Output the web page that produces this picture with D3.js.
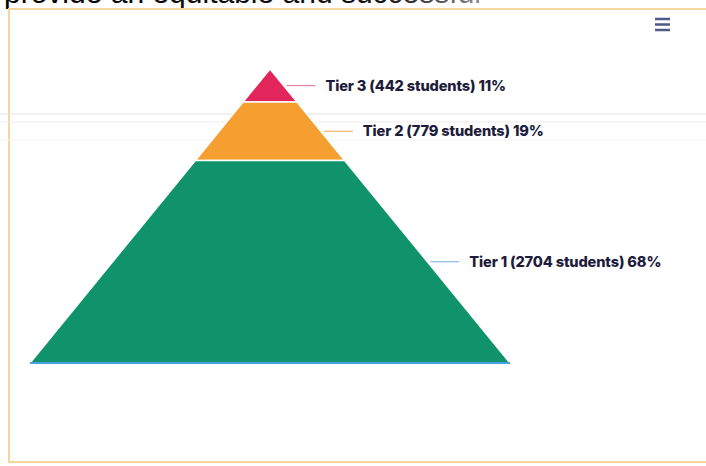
<!DOCTYPE html>
<html>
<head>
  <meta charset="utf-8">
  <title>Tiers pyramid</title>
  <script src="https://d3js.org/d3.v7.min.js"></script>
  <style>
    body { margin: 0; background: #fff; overflow: hidden; }
  </style>
</head>
<body>
<div id="chart"></div>
<script>

// data (top of pyramid first)
const tiers = ["Tier 3", "Tier 2", "Tier 1"];
const students = [442, 779, 2704];
const percents = [11, 19, 68];
const tierColors = ["#e2265c", "#f59f30", "#10936a"];
const connectorColors = ["#e384a8", "#f2b56c", "#86bfe0"];

const W = 706, H = 466;

const svg = d3.select("#chart").append("svg")
    .attr("width", W)
    .attr("height", H);

// text of the page above the chart, cut by the top edge
const grad = svg.append("defs").append("linearGradient")
    .attr("id", "fade").attr("x1", "0%").attr("x2", "100%");
grad.append("stop").attr("offset", "0%").attr("stop-color", "#000");
grad.append("stop").attr("offset", "80%").attr("stop-color", "#151515");
grad.append("stop").attr("offset", "100%").attr("stop-color", "#8a8a8a");

svg.append("text")
    .attr("x", 4)
    .attr("y", 3)
    .attr("font-family", "Liberation Sans, Arial")
    .attr("font-size", 30)
    .attr("fill", "url(#fade)")
    .text("provide an equitable and successful");

// chart frame
svg.append("rect")
    .attr("x", 9).attr("y", 9)
    .attr("width", W + 20).attr("height", 453)
    .attr("fill", "none")
    .attr("stroke", "#f6d79a")
    .attr("stroke-width", 2);

// faint scan lines
[[114, "#e2e2e2"], [122, "#ececec"], [140, "#f2f2f2"]].forEach(l => {
  svg.append("line")
    .attr("x1", 0).attr("x2", W)
    .attr("y1", l[0]).attr("y2", l[0])
    .attr("stroke", l[1]).attr("stroke-width", 1);
});

// menu icon
[19, 24.5, 30].forEach(yy => {
  svg.append("rect")
    .attr("x", 655).attr("y", yy - 1.25)
    .attr("width", 15).attr("height", 2.5)
    .attr("fill", "#4f5a88");
});

// pyramid scales
const total = d3.sum(students);
const apexX = 270;
const y = d3.scaleLinear().domain([0, total]).range([69, 363]);
const half = d3.scaleLinear().domain([0, total]).range([0, 240]);

let cum = 0;
const slices = tiers.map((t, i) => {
  const s = { name: t, value: students[i], pct: percents[i], start: cum, end: cum + students[i], i: i };
  cum += students[i];
  return s;
});

svg.selectAll("path.slice")
  .data(slices)
  .enter()
  .append("path")
    .attr("class", "slice")
    .attr("fill", d => tierColors[d.i])
    .attr("stroke", "#fff")
    .attr("stroke-width", 1.5)
    .attr("d", d => {
      const y0 = y(d.start), y1 = y(d.end);
      const h0 = half(d.start), h1 = half(d.end);
      return `M${apexX - h0},${y0}L${apexX + h0},${y0}L${apexX + h1},${y1}L${apexX - h1},${y1}Z`;
    });

// bluish edge at the base of the pyramid
svg.append("line")
    .attr("x1", apexX - half(total)).attr("x2", apexX + half(total))
    .attr("y1", y(total)).attr("y2", y(total))
    .attr("stroke", "#4a9fe0")
    .attr("stroke-width", 2);

// connectors and labels
const labels = svg.selectAll("g.label")
  .data(slices)
  .enter()
  .append("g")
    .attr("class", "label");

labels.append("line")
    .attr("x1", d => apexX + half((d.start + d.end) / 2) + 3)
    .attr("x2", d => apexX + half((d.start + d.end) / 2) + 32)
    .attr("y1", d => y((d.start + d.end) / 2))
    .attr("y2", d => y((d.start + d.end) / 2))
    .attr("stroke", d => connectorColors[d.i])
    .attr("stroke-width", 1.2);

labels.append("text")
    .attr("x", d => apexX + half((d.start + d.end) / 2) + 42)
    .attr("y", d => y((d.start + d.end) / 2))
    .attr("dy", "0.35em")
    .attr("font-family", "Inter, Roboto, sans-serif")
    .attr("font-weight", 800)
    .attr("font-size", 14.6)
    .attr("letter-spacing", -0.15)
    .attr("fill", "#1d1d3b")
    .text(d => `${d.name} (${d.value} students) ${d.pct}%`);

</script>
</body>
</html>
